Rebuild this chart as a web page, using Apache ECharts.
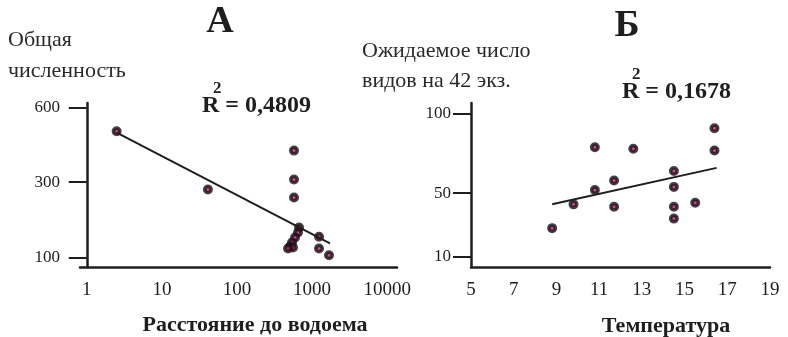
<!DOCTYPE html>
<html>
<head>
<meta charset="utf-8">
<title>А / Б</title>
<script src="https://cdn.jsdelivr.net/npm/echarts@6/dist/echarts.min.js"></script>
<style>
  html, body { margin: 0; padding: 0; background: #fff; }
  #chart { width: 788px; height: 337px; }
</style>
</head>
<body>
<div id="chart"></div>
<script>
// панель А: расстояние до водоема (лог. шкала) / общая численность
const distA = [2.5, 41, 574, 574, 574, 670, 649, 592, 540, 508, 557, 478, 1236, 1236, 1679];
const abundA = [495, 276, 415, 309, 251, 167, 155, 143, 132, 123, 121, 119, 145, 119, 105];
const trendDistA = [2.5, 1730];
const trendAbundA = [489, 130];
const xTicksA = [1, 10, 100, 1000, 10000];
const yTicksA = [100, 300, 600];

// панель Б: температура / ожидаемое число видов
const tempB = [8.8, 9.8, 10.8, 10.8, 11.7, 11.7, 12.6, 14.5, 14.5, 14.5, 14.5, 15.5, 16.4, 16.4];
const speciesB = [28, 43, 79, 52, 58, 41.5, 78, 64, 54, 41.5, 34, 44, 91, 77];
const trendTempB = [8.8, 16.5];
const trendSpeciesB = [43, 66];
const xTicksB = [5, 7, 9, 11, 13, 15, 17, 19];
const yTicksB = [10, 50, 100];

const FONT = '"Liberation Serif", "DejaVu Serif", serif';
const INK = '#1e1e1e';

// ось абсцисс А логарифмическая, ось ординат А - корневая (как на рисунке)
const lg = v => Math.log10(v);
const sq = v => Math.sqrt(v);

const chart = echarts.init(document.getElementById('chart'));

const axisLine = { show: true, lineStyle: { color: INK, width: 2.5 } };
const yTick = { show: true, length: 18, lineStyle: { color: INK, width: 2 } };
const xLabel = { color: INK, fontFamily: FONT, fontSize: 19, margin: 14 };
const yLabel = { color: INK, fontFamily: FONT, fontSize: 17, margin: 20, padding: [0, 0, 14, 0] };

const dotStyle = { color: '#c0166e', borderColor: '#141414', borderWidth: 3.5 };

let option = {
  animation: false,
  grid: [
    { left: 80, top: 103, width: 317, height: 164, outerBoundsMode: 'none' },
    { left: 471, top: 103, width: 299, height: 164, outerBoundsMode: 'none' }
  ],
  xAxis: [
    {
      gridIndex: 0, type: 'value', min: -0.09, max: 4.13,
      axisLine: axisLine, axisTick: { show: false }, splitLine: { show: false },
      axisLabel: Object.assign({}, xLabel, {
        customValues: xTicksA.map(lg),
        formatter: v => String(Math.round(Math.pow(10, v)))
      })
    },
    {
      gridIndex: 1, type: 'value', min: 5, max: 19,
      axisLine: axisLine, axisTick: { show: false }, splitLine: { show: false },
      axisLabel: Object.assign({}, xLabel, { customValues: xTicksB })
    }
  ],
  yAxis: [
    {
      gridIndex: 0, type: 'value', min: sq(83), max: sq(624),
      axisLine: axisLine, splitLine: { show: false },
      axisTick: Object.assign({}, yTick, { customValues: yTicksA.map(sq) }),
      axisLabel: Object.assign({}, yLabel, {
        customValues: yTicksA.map(sq),
        formatter: v => String(Math.round(v * v))
      })
    },
    {
      gridIndex: 1, type: 'value', min: 3.5, max: 106.9,
      axisLine: axisLine, splitLine: { show: false },
      axisTick: Object.assign({}, yTick, { customValues: yTicksB }),
      axisLabel: Object.assign({}, yLabel, { customValues: yTicksB })
    }
  ],
  series: [
    {
      type: 'line', xAxisIndex: 0, yAxisIndex: 0, symbol: 'none',
      lineStyle: { color: INK, width: 2 },
      data: trendDistA.map((d, i) => [lg(d), sq(trendAbundA[i])])
    },
    {
      type: 'scatter', xAxisIndex: 0, yAxisIndex: 0, symbolSize: 6.5,
      itemStyle: dotStyle,
      data: distA.map((d, i) => [lg(d), sq(abundA[i])])
    },
    {
      type: 'line', xAxisIndex: 1, yAxisIndex: 1, symbol: 'none',
      lineStyle: { color: INK, width: 2 },
      data: trendTempB.map((t, i) => [t, trendSpeciesB[i]])
    },
    {
      type: 'scatter', xAxisIndex: 1, yAxisIndex: 1, symbolSize: 6.5,
      itemStyle: dotStyle,
      data: tempB.map((t, i) => [t, speciesB[i]])
    }
  ],
  graphic: [
    { type: 'text', x: 220, y: 22, style: { text: 'А', font: 'bold 38px ' + FONT, fill: INK, align: 'center', verticalAlign: 'middle' } },
    { type: 'text', x: 627, y: 26, style: { text: 'Б', font: 'bold 38px ' + FONT, fill: INK, align: 'center', verticalAlign: 'middle' } },
    { type: 'text', x: 8, y: 40, style: { text: 'Общая', font: '22px ' + FONT, fill: '#2a2a2a', verticalAlign: 'middle' } },
    { type: 'text', x: 8, y: 71, style: { text: 'численность', font: '22px ' + FONT, fill: '#2a2a2a', verticalAlign: 'middle' } },
    { type: 'text', x: 362, y: 51, style: { text: 'Ожидаемое число', font: '22px ' + FONT, fill: '#2a2a2a', verticalAlign: 'middle' } },
    { type: 'text', x: 362, y: 81, style: { text: 'видов на 42 экз.', font: '22px ' + FONT, fill: '#2a2a2a', verticalAlign: 'middle' } },
    { type: 'text', x: 202, y: 106, style: { text: 'R = 0,4809', font: 'bold 24px ' + FONT, fill: INK, verticalAlign: 'middle' } },
    { type: 'text', x: 213, y: 89, style: { text: '2', font: 'bold 17px ' + FONT, fill: INK, verticalAlign: 'middle' } },
    { type: 'text', x: 622, y: 92, style: { text: 'R = 0,1678', font: 'bold 24px ' + FONT, fill: INK, verticalAlign: 'middle' } },
    { type: 'text', x: 632, y: 75, style: { text: '2', font: 'bold 17px ' + FONT, fill: INK, verticalAlign: 'middle' } },
    { type: 'text', x: 255, y: 325, style: { text: 'Расстояние до водоема', font: 'bold 22px ' + FONT, fill: INK, align: 'center', verticalAlign: 'middle' } },
    { type: 'text', x: 666, y: 326, style: { text: 'Температура', font: 'bold 22px ' + FONT, fill: INK, align: 'center', verticalAlign: 'middle' } }
  ]
};

chart.setOption(option);
</script>
</body>
</html>
